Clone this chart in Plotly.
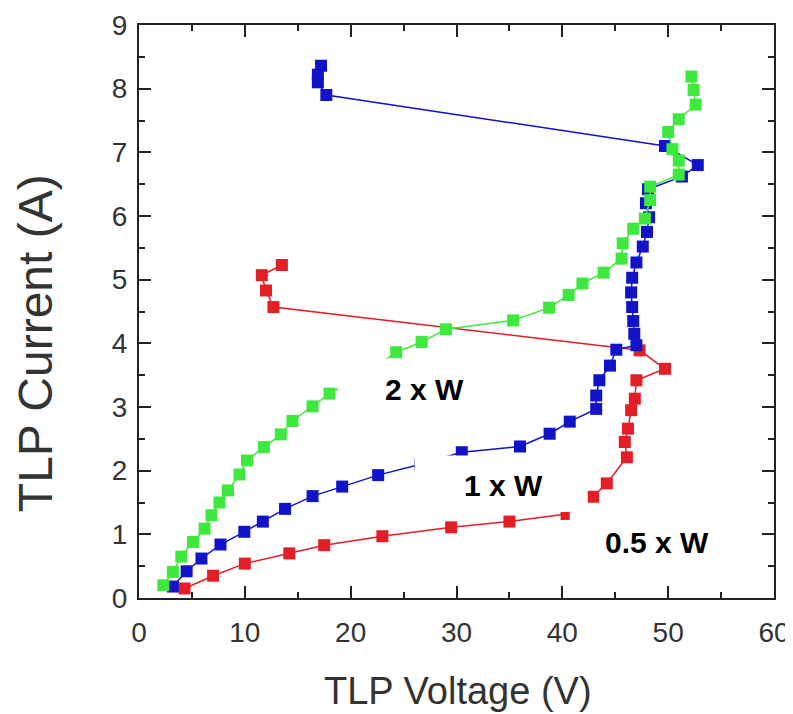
import plotly.graph_objects as go

# ---- data ----
red_v = [4.3, 7.0, 10.0, 14.2, 17.5, 23.0, 29.5, 35.0, 40.4, 42.9, 44.2, 46.1, 45.9, 46.2,
         46.5, 46.85, 47.0, 49.7, 47.3, 12.7, 12.0, 11.6, 13.5]
red_i = [0.15, 0.35, 0.54, 0.70, 0.83, 0.97, 1.11, 1.20, 1.32, 1.59, 1.80, 2.21, 2.45, 2.66,
         2.95, 3.13, 3.42, 3.60, 3.89, 4.57, 4.83, 5.07, 5.23]

blue_v = [3.2, 4.5, 5.9, 7.7, 9.95, 11.7, 13.8, 16.4, 19.2, 22.6, 26.6, 30.5, 36.0, 38.8,
          40.7, 43.2, 43.2, 43.5, 44.5, 45.1, 47.0, 46.8, 46.7, 46.6, 46.5, 46.6, 47.0, 47.6,
          48.0, 48.2, 47.9, 48.1, 51.3, 52.8, 49.7, 17.7, 16.9, 16.9, 17.2]
blue_i = [0.18, 0.42, 0.62, 0.84, 1.04, 1.20, 1.40, 1.60, 1.75, 1.93, 2.10, 2.29, 2.38, 2.58,
          2.77, 2.97, 3.18, 3.42, 3.65, 3.90, 3.97, 4.15, 4.35, 4.57, 4.80, 5.03, 5.27, 5.52,
          5.75, 5.98, 6.20, 6.42, 6.62, 6.80, 7.10, 7.90, 8.10, 8.22, 8.36]

green_v = [2.3, 3.2, 4.0, 5.1, 6.2, 6.85, 7.6, 8.4, 9.5, 10.2, 11.8, 13.4, 14.5, 16.4, 18.0,
           20.2, 22.3, 24.3, 26.7, 29.0, 35.35, 38.75, 40.6, 41.9, 43.9, 45.6, 45.7, 46.7,
           47.8, 48.3, 48.3, 51.0, 51.0, 50.4, 50.0, 51.0, 52.6, 52.4, 52.2]
green_i = [0.20, 0.41, 0.65, 0.88, 1.09, 1.30, 1.50, 1.69, 1.94, 2.16, 2.37, 2.57, 2.78, 3.01,
           3.21, 3.42, 3.63, 3.86, 4.02, 4.22, 4.36, 4.56, 4.76, 4.94, 5.11, 5.33, 5.57, 5.80,
           5.96, 6.25, 6.46, 6.65, 6.87, 7.05, 7.32, 7.52, 7.75, 7.98, 8.19]

labels = ["2 x W", "1 x W", "0.5 x W"]
label_v = [27.0, 34.4, 48.9]
label_i = [3.28, 1.77, 0.87]
# white label boxes: (v0, v1, i0, i1)
box_v0 = [18.8, 26.05, 40.7]
box_v1 = [34.7, 42.4, 57.0]
box_i0 = [2.88, 1.35, 0.40]
box_i1 = [3.76, 2.24, 1.345]

x_ticks = [0, 10, 20, 30, 40, 50, 60]
y_ticks = [0, 1, 2, 3, 4, 5, 6, 7, 8, 9]

RED = "#e41e26"
BLUE = "#1212c8"
GREEN = "#3ee83e"

fig = go.Figure()
for v, i, c in [(red_v, red_i, RED), (blue_v, blue_i, BLUE), (green_v, green_i, GREEN)]:
    fig.add_trace(go.Scatter(
        x=v, y=i, mode="lines+markers",
        line=dict(color=c, width=1.5),
        marker=dict(symbol="square", size=12, color=c, line=dict(width=0)),
        showlegend=False, hoverinfo="x+y"))

for k in range(len(labels)):
    fig.add_shape(type="rect", xref="x", yref="y",
                  x0=box_v0[k], x1=box_v1[k], y0=box_i0[k], y1=box_i1[k],
                  fillcolor="white", line=dict(width=0), layer="above")
    fig.add_annotation(x=label_v[k], y=label_i[k], xref="x", yref="y",
                       text="<b>%s</b>" % labels[k], showarrow=False,
                       font=dict(family="Liberation Sans, Arial", size=30, color="black"))

TICKFONT = dict(family="Liberation Sans, Arial, Helvetica", size=28, color="#333333")
common = dict(showgrid=False, zeroline=False, showline=True, linecolor="#222222",
              linewidth=2, mirror="ticks", ticks="inside", ticklen=12, tickwidth=2,
              tickcolor="#222222", tickfont=TICKFONT, automargin=False)

fig.update_xaxes(range=[0, 60], tickvals=x_ticks, ticktext=[str(t) for t in x_ticks],
                 minor=dict(ticks="inside", ticklen=6, tickwidth=2, dtick=5,
                            tickcolor="#222222", showgrid=False),
                 ticklabelstandoff=8, **common)
fig.update_yaxes(range=[0, 9], tickvals=y_ticks, ticktext=[str(t) for t in y_ticks],
                 minor=dict(ticks="inside", ticklen=6, tickwidth=2, dtick=0.5,
                            tickcolor="#222222", showgrid=False),
                 ticklabelstandoff=4, **common)

# axis titles
fig.add_annotation(x=0.503, y=-0.1616, xref="paper", yref="paper", showarrow=False,
                   text="TLP Voltage (V)", yanchor="middle",
                   font=dict(family="Liberation Sans, Arial", size=38, color="#333333"))
fig.add_annotation(x=-0.164, y=0.4445, xref="paper", yref="paper", showarrow=False,
                   text="TLP Current (A)", textangle=-90, xanchor="center", yanchor="middle",
                   font=dict(family="Liberation Sans, Arial", size=48, color="#333333"))

# page body has an 8px margin, so the figure is drawn 8px smaller and shifted
fig.update_layout(width=785, height=706,
                  margin=dict(l=131, r=19, t=17, b=116),
                  plot_bgcolor="white", paper_bgcolor="white")

fig.write_html("out.html")
